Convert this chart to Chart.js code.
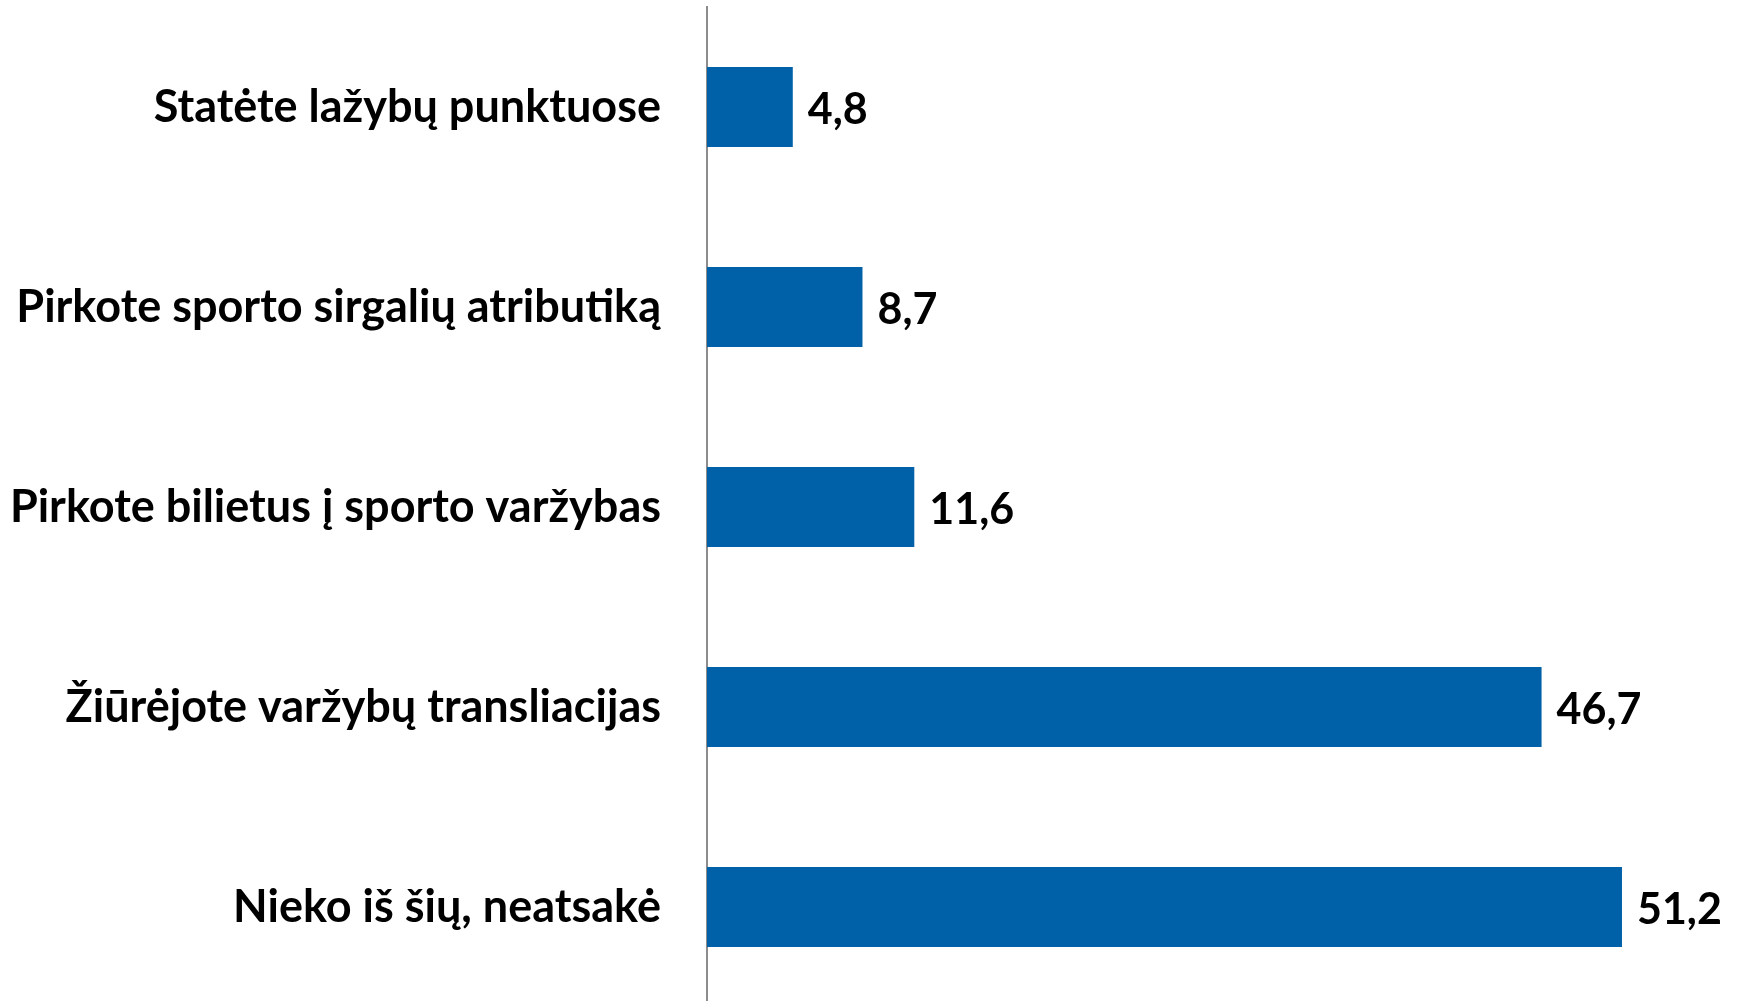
<!DOCTYPE html>
<html>
<head>
<meta charset="utf-8">
<script src="https://cdn.jsdelivr.net/npm/chart.js@4"></script>
<style>
  html, body { margin: 0; padding: 0; background: #fff; overflow: hidden; }
  #wrap { width: 1741px; height: 1010px; position: relative; }
</style>
</head>
<body>
<div id="wrap"><canvas id="chart"></canvas></div>
<script>
// categories and values
const categories = [
    'Statėte lažybų punktuose',
    'Pirkote sporto sirgalių atributiką',
    'Pirkote bilietus į sporto varžybas',
    'Žiūrėjote varžybų transliacijas',
    'Nieko iš šių, neatsakė'
];
const values = [4.8, 8.7, 11.6, 46.7, 51.2];

const FONT = 'Lato, "Noto Sans", sans-serif';

// value labels to the right of each bar
const valueLabels = {
    id: 'valueLabels',
    afterDatasetsDraw(chart) {
        const ctx = chart.ctx;
        const meta = chart.getDatasetMeta(0);
        ctx.save();
        ctx.font = 'bold 43px ' + FONT;
        ctx.fillStyle = '#000';
        ctx.textBaseline = 'middle';
        ctx.textAlign = 'left';
        meta.data.forEach((bar, i) => {
            const txt = values[i].toFixed(1).replace('.', ',');
            ctx.fillText(txt, bar.x + 15, bar.y + 3);
        });
        ctx.restore();
    }
};

new Chart(document.getElementById('chart').getContext('2d'), {
    type: 'bar',
    data: {
        labels: categories,
        datasets: [{
            data: values,
            backgroundColor: '#0060A8',
            borderWidth: 0,
            barPercentage: 0.4,
            categoryPercentage: 1.0
        }]
    },
    options: {
        indexAxis: 'y',
        responsive: true,
        maintainAspectRatio: false,
        animation: false,
        layout: { padding: { top: 7, bottom: 3, left: 0, right: 0 } },
        plugins: {
            legend: { display: false },
            tooltip: { enabled: false }
        },
        scales: {
            x: {
                display: false,
                min: 0,
                max: 57.86
            },
            y: {
                grid: { display: false, drawTicks: false },
                border: { display: true, color: '#8c8c8c', width: 2 },
                afterFit: function(scale) {
                    // fixed axis width, no extra vertical padding from the tick labels
                    scale.width = 707;
                    scale.paddingTop = 0;
                    scale.paddingBottom = 0;
                },
                ticks: {
                    padding: 46,
                    color: '#000',
                    font: { family: FONT, size: 45, weight: 'bold' }
                }
            }
        }
    },
    plugins: [valueLabels]
});
</script>
</body>
</html>
